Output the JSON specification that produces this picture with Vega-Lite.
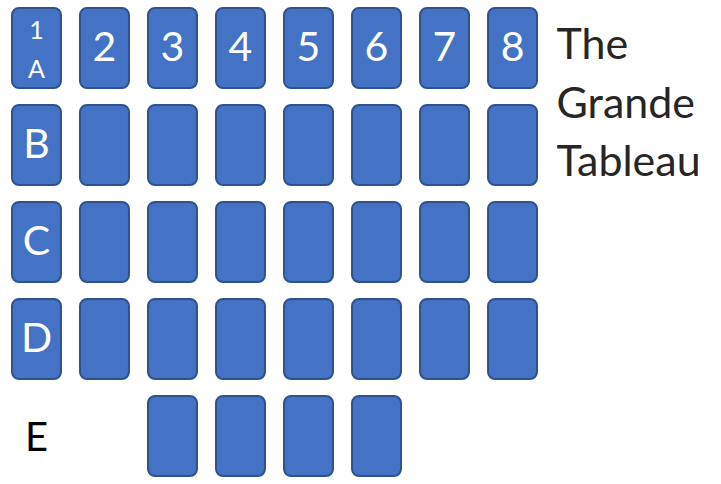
{
  "$schema": "https://vega.github.io/schema/vega-lite/v6.json",
  "width": 525,
  "height": 468,
  "autosize": {"type": "none"},
  "padding": {"left": 12, "top": 8, "right": 184, "bottom": 8},
  "background": "white",
  "config": {"view": {"stroke": null}, "font": "Lato"},
  "datasets": {
    "cards": [
      {"col": "1", "row": "A"}, {"col": "2", "row": "A"}, {"col": "3", "row": "A"}, {"col": "4", "row": "A"},
      {"col": "5", "row": "A"}, {"col": "6", "row": "A"}, {"col": "7", "row": "A"}, {"col": "8", "row": "A"},
      {"col": "1", "row": "B"}, {"col": "2", "row": "B"}, {"col": "3", "row": "B"}, {"col": "4", "row": "B"},
      {"col": "5", "row": "B"}, {"col": "6", "row": "B"}, {"col": "7", "row": "B"}, {"col": "8", "row": "B"},
      {"col": "1", "row": "C"}, {"col": "2", "row": "C"}, {"col": "3", "row": "C"}, {"col": "4", "row": "C"},
      {"col": "5", "row": "C"}, {"col": "6", "row": "C"}, {"col": "7", "row": "C"}, {"col": "8", "row": "C"},
      {"col": "1", "row": "D"}, {"col": "2", "row": "D"}, {"col": "3", "row": "D"}, {"col": "4", "row": "D"},
      {"col": "5", "row": "D"}, {"col": "6", "row": "D"}, {"col": "7", "row": "D"}, {"col": "8", "row": "D"},
      {"col": "3", "row": "E"}, {"col": "4", "row": "E"}, {"col": "5", "row": "E"}, {"col": "6", "row": "E"}
    ],
    "cardLabels": [
      {"col": "2", "row": "A", "label": "2"}, {"col": "3", "row": "A", "label": "3"},
      {"col": "4", "row": "A", "label": "4"}, {"col": "5", "row": "A", "label": "5"},
      {"col": "6", "row": "A", "label": "6"}, {"col": "7", "row": "A", "label": "7"},
      {"col": "8", "row": "A", "label": "8"}, {"col": "1", "row": "B", "label": "B"},
      {"col": "1", "row": "C", "label": "C"}, {"col": "1", "row": "D", "label": "D"}
    ],
    "corner": [{"col": "1", "row": "A", "label": "1\nA"}],
    "rowE": [{"col": "1", "row": "E", "label": "E"}],
    "title": [{"col": "8", "row": "A", "label": "The\nGrande\nTableau"}]
  },
  "encoding": {
    "x": {"field": "col", "type": "nominal", "axis": null,
          "scale": {"domain": ["1","2","3","4","5","6","7","8"], "paddingInner": 0.28, "paddingOuter": 0}},
    "y": {"field": "row", "type": "nominal", "axis": null,
          "scale": {"domain": ["A","B","C","D","E"], "paddingInner": 0.175, "paddingOuter": 0}}
  },
  "layer": [
    {
      "data": {"name": "cards"},
      "mark": {"type": "rect", "fill": "#4472C4", "stroke": "#2F528F", "strokeWidth": 2, "cornerRadius": 7}
    },
    {
      "data": {"name": "cardLabels"},
      "mark": {"type": "text", "color": "white", "fontSize": 41, "baseline": "middle", "align": "center", "dy": 1},
      "encoding": {"text": {"field": "label"}}
    },
    {
      "data": {"name": "corner"},
      "mark": {"type": "text", "color": "white", "fontSize": 25, "baseline": "middle", "align": "center", "lineBreak": "\n", "lineHeight": 39, "dy": -17},
      "encoding": {"text": {"field": "label"}}
    },
    {
      "data": {"name": "rowE"},
      "mark": {"type": "text", "color": "black", "fontSize": 40, "baseline": "middle", "align": "center", "dy": 3},
      "encoding": {"text": {"field": "label"}}
    },
    {
      "data": {"name": "title"},
      "mark": {"type": "text", "color": "#262626", "fontSize": 43, "baseline": "alphabetic", "align": "left", "lineBreak": "\n", "lineHeight": 58.5, "dx": 44, "dy": 11},
      "encoding": {"text": {"field": "label"}}
    }
  ]
}
